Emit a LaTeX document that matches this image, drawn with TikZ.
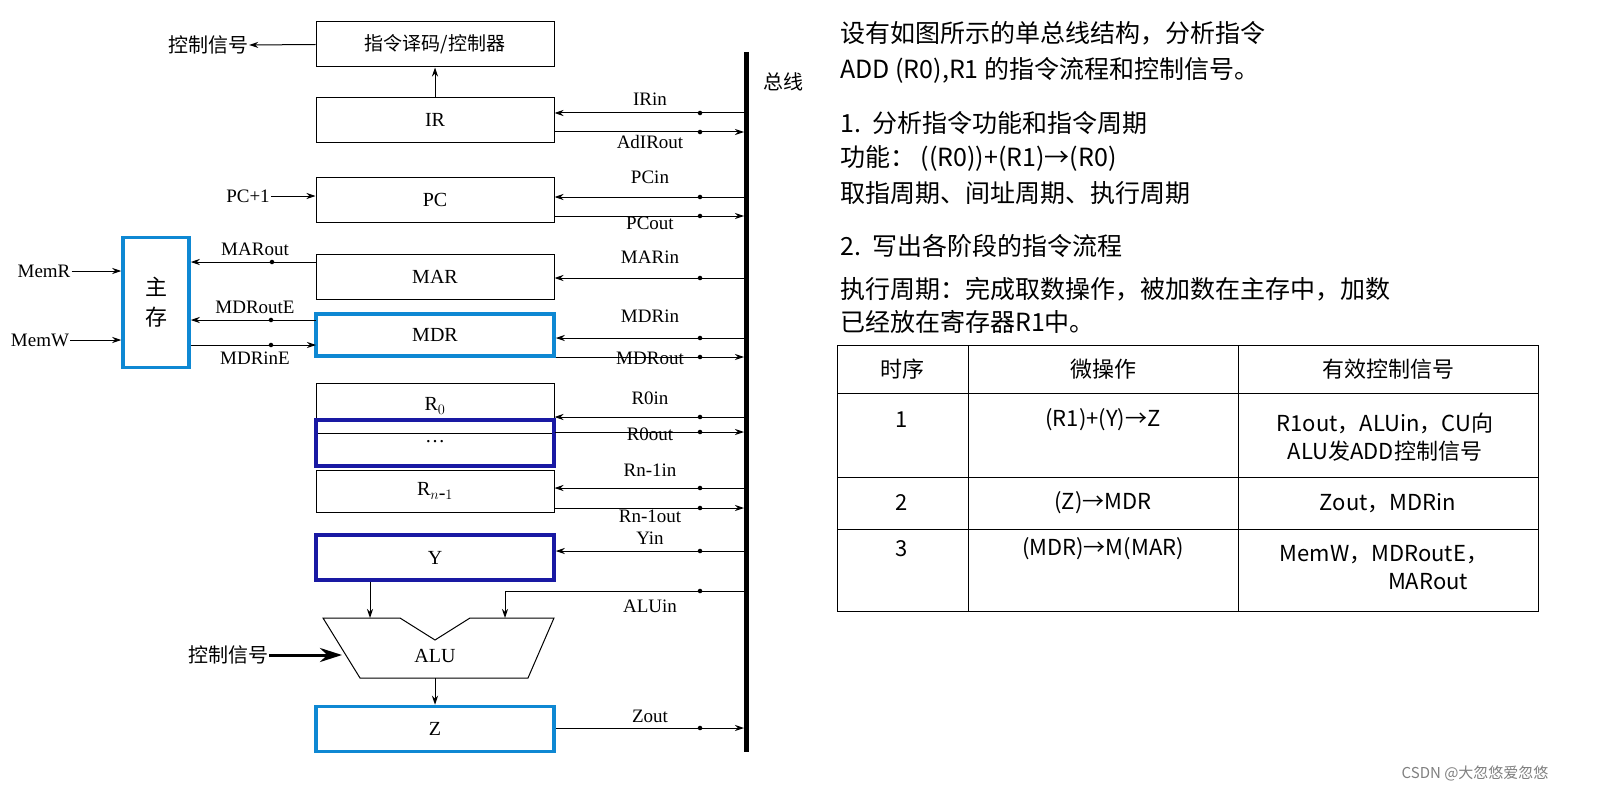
\documentclass[tikz,border=0pt]{standalone}
\usepackage{fontspec}
\setmainfont{Liberation Serif}
\newfontfamily\cjk{Noto Sans CJK SC}
\usetikzlibrary{arrows.meta}
\begin{document}
\begin{tikzpicture}[x=1pt,y=-1pt,
  reg/.style={draw,line width=1pt,minimum width=238pt,minimum height=45pt,inner sep=0pt,font=\fontsize{20}{22}\selectfont},
  bluereg/.style={reg,draw=cyan!70!blue,line width=3.5pt},
  darkreg/.style={reg,draw=blue!60!black!90,line width=3.5pt},
  sig/.style={font=\fontsize{19}{21}\selectfont,inner sep=1pt},
  ln/.style={line width=1pt},
  tip/.style={-{Stealth[length=9pt,width=6pt]}},
  dotm/.style={circle,fill,inner sep=1.6pt},
  rt/.style={font=\cjk\fontsize{25}{29}\selectfont,anchor=west,inner sep=0pt},
  tt/.style={font=\cjk\fontsize{22}{28}\selectfont,align=center,inner sep=0pt}]
\useasboundingbox (0,0) rectangle (1622,789);
\fill[white] (0,0) rectangle (1622,789);
% bus
\draw[line width=5pt] (746,52) -- (746,752);
\node[font=\cjk\fontsize{20}{22}\selectfont] (buslab) at (783,82) {总线};
% boxes
\node[reg] (ctl) at (435,44.5) {\cjk\fontsize{19}{21}\selectfont 指令译码/控制器};
\node[reg] (ir) at (435,120) {IR};
\node[reg] (pc) at (435,199.5) {PC};
\node[reg] (mar) at (435,277) {MAR};
\node[bluereg,minimum height=42pt] (mdr) at (435,335) {MDR};
\node[reg,minimum height=50pt] (r0) at (435,408) {};
\node[font=\fontsize{20}{22}\selectfont,inner sep=0pt] (r0l) at (435,406) {R$_0$};
\node[darkreg,minimum height=46pt] (dots) at (435,443) {\raisebox{4pt}{\ldots}};
\node[reg,minimum height=42pt] (rn) at (435,491) {R$_{n\mbox{-}1}$};
\node[darkreg] (y) at (435,557.5) {Y};
\node[bluereg] (z) at (435,729) {Z};
\node[draw=cyan!70!blue,line width=3.5pt,minimum width=66pt,minimum height=130pt,inner sep=0pt,align=center,font=\cjk\fontsize{22}{30}\selectfont] (mem) at (156,302.5) {主\\存};
% controller
\node[sig,font=\cjk\fontsize{20}{22}\selectfont] (cs1) at (208,45) {控制信号};
\draw[ln,tip] (ctl.west) -- (cs1.east);
\draw[ln,tip] (ir.north) -- (ctl.south);
% bus coordinates
\foreach \n/\yy in {irin/113,irout/132,pcin/197,pcout/216,marin/278,mdrin/338,mdrout/357,r0in/417,r0out/432,rnin/488,rnout/508,yin/551,aluin/591,zout/728}
  {\coordinate (b\n) at (744,\yy); \coordinate (d\n) at (700,\yy);}
\foreach \n/\b in {irin/ir,pcin/pc,marin/mar,mdrin/mdr,r0in/r0,rnin/rn,yin/y}
  {\draw[ln,tip] (b\n) -- (b\n -| \b.east); \node[dotm] at (d\n) {};}
\foreach \n/\b in {irout/ir,pcout/pc,mdrout/mdr,r0out/r0,rnout/rn,zout/z}
  {\draw[ln,tip] (b\n -| \b.east) -- (b\n); \node[dotm] at (d\n) {};}
\node[sig] at (650,99) {IRin};
\node[sig] at (650,142) {AdIRout};
\node[sig] at (650,177) {PCin};
\node[sig] at (650,223) {PCout};
\node[sig] at (650,257) {MARin};
\node[sig] at (650,316) {MDRin};
\node[sig] at (650,358) {MDRout};
\node[sig] at (650,398) {R0in};
\node[sig] at (650,434) {R0out};
\node[sig] at (650,470) {Rn-1in};
\node[sig] at (650,516) {Rn-1out};
\node[sig] at (650,538) {Yin};
\node[sig] at (650,606) {ALUin};
\node[sig] at (650,716) {Zout};
% memory links
\coordinate (mo) at (316,262); \coordinate (me) at (316,320); \coordinate (mi) at (316,345);
\draw[ln,tip] (mo) -- (mo -| mem.east); \node[dotm] at (272,262) {};
\draw[ln,tip] (me) -- (me -| mem.east); \node[dotm] at (271,320) {};
\draw[ln,tip] (mi -| mem.east) -- (mi); \node[dotm] at (271,345) {};
\node[sig] at (255,249) {MARout};
\node[sig] at (255,307) {MDRoutE};
\node[sig] at (255,358) {MDRinE};
\node[sig] (memr) at (44,271) {MemR};
\node[sig] (memw) at (40,340) {MemW};
\draw[ln,tip] (memr.east) -- (memr.east -| mem.west);
\draw[ln,tip] (memw.east) -- (memw.east -| mem.west);
\node[sig] (pcp) at (248,196) {PC+1};
\draw[ln,tip] (pcp.east) -- (pcp.east -| pc.west);
% ALU
\draw[line width=1pt] (323,618) -- (400,618) -- (435,640) -- (470,618) -- (554,618) -- (528,678) -- (360,678) -- cycle;
\node[font=\fontsize{20}{22}\selectfont] (alu) at (435,656) {ALU};
\coordinate (alutop1) at (370,618); \coordinate (alutop2) at (505,618); \coordinate (alubot) at (435,678);
\draw[ln,tip] (y.south -| alutop1) -- (alutop1);
\draw[ln,tip] (baluin) -- (505,591) -- (alutop2);
\node[dotm] at (daluin) {};
\draw[ln,tip] (alubot) -- (z.north);
\node[sig,font=\cjk\fontsize{20}{22}\selectfont] (cs2) at (228,655) {控制信号};
\draw[line width=3pt,-{Stealth[length=22pt,width=14pt]}] (cs2.east) -- (342,655);
% right panel
\node[rt] at (840,33) {设有如图所示的单总线结构，分析指令};
\node[rt] at (840,70) {ADD (R0),R1 的指令流程和控制信号。};
\node[rt] at (840,123) {1.\ \ 分析指令功能和指令周期};
\node[rt] at (840,158) {功能： ((R0))+(R1)→(R0)};
\node[rt] at (840,193) {取指周期、间址周期、执行周期};
\node[rt] at (840,246) {2.\ \ 写出各阶段的指令流程};
\node[rt] at (840,289) {执行周期：完成取数操作，被加数在主存中，加数};
\node[rt] at (840,322) {已经放在寄存器R1中。};
% table
\draw[line width=1pt] (837,345) rectangle (1538,611);
\foreach \yy in {393,477,529} \draw[line width=1pt] (837,\yy) -- (1538,\yy);
\foreach \xx in {968,1238} \draw[line width=1pt] (\xx,345) -- (\xx,611);
\node[tt] at (902,369) {时序};
\node[tt] at (1103,369) {微操作};
\node[tt] at (1388,369) {有效控制信号};
\node[tt] at (902,420) {1};
\node[tt] at (1103,420) {(R1)+(Y)→Z};
\node[tt] at (1385,437) {R1out，ALUin，CU向\\ALU发ADD控制信号};
\node[tt] at (902,503) {2};
\node[tt] at (1103,503) {(Z)→MDR};
\node[tt] at (1388,503) {Zout，MDRin};
\node[tt] at (902,549) {3};
\node[tt] at (1103,549) {(MDR)→M(MAR)};
\node[tt] at (1384,568) {MemW，MDRoutE，\\\hspace*{4em}MARout};
\node[font=\cjk\fontsize{15}{17}\selectfont,text=gray,anchor=east] at (1552,773) {CSDN @大忽悠爱忽悠};
\end{tikzpicture}
\end{document}
